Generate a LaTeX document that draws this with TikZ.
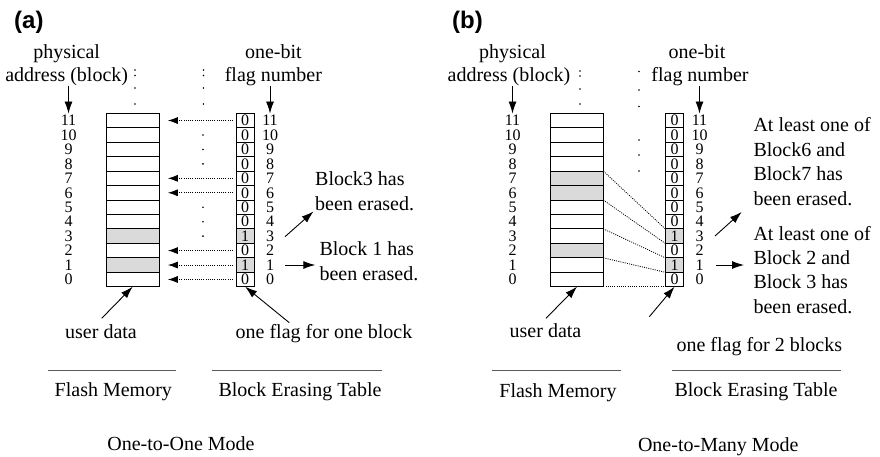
\documentclass[tikz,border=0pt]{standalone}
\usepackage{fontspec}
\setmainfont{Liberation Serif}
\newfontfamily\panelfont{Liberation Sans}
\usetikzlibrary{arrows.meta}
\definecolor{shade}{RGB}{218,218,218}
\definecolor{rulegray}{RGB}{90,90,90}
\newcommand{\txtsize}{\fontsize{20}{23}\selectfont}
\newcommand{\annsize}{\fontsize{20}{24.4}\selectfont}
\newcommand{\digsize}{\fontsize{16}{16}\selectfont}
\begin{document}
\begin{tikzpicture}[x=1pt,y=-1pt,
  cell/.style={draw=black, line width=0.9pt, minimum width=#1, minimum height=14.45pt, inner sep=0pt, outer sep=0pt, font=\digsize},
  num/.style={inner sep=0pt, font=\digsize},
  txt/.style={inner sep=0pt, font=\txtsize},
  ann/.style={inner sep=0pt, font=\annsize, align=left, anchor=north west},
  panel/.style={inner sep=0pt, font=\panelfont\bfseries\fontsize{24}{24}\selectfont, anchor=base west},
  arr/.style={line width=0.9pt, -{Latex[length=12pt,width=8pt]}},
  dotarr/.style={line width=0.9pt, dash pattern=on 1pt off 1.2pt, -{Latex[length=10pt,width=7pt]}, shorten <=3pt, shorten >=8.5pt},
  dotln/.style={line width=0.8pt, dash pattern=on 1pt off 1.2pt},
  rule/.style={draw=rulegray, line width=1.2pt}
]
\useasboundingbox (0,0) rectangle (880,456);

% ---------------- panel (a) ----------------
\node[panel] (lbla) at (14,28) {(a)};
\foreach \i/\mf/\fv in {11/white/0,10/white/0,9/white/0,8/white/0,7/white/0,6/white/0,5/white/0,4/white/0,3/shade/1,2/white/0,1/shade/1,0/white/0}{
  \pgfmathsetmacro{\yy}{113.3+(11.5-\i)*14.45}
  \node[cell=53.3pt, fill=\mf] (ma\i) at (132.65,\yy) {};
  \node[cell=18.3pt, fill=\mf] (fa\i) at (245.15,\yy) {\fv};
  \node[num] (la\i) at (68.5,\yy) {\i};
  \node[num] (ra\i) at (270,\yy) {\i};
}
\foreach \i in {11,7,6,2,1,0} \draw[dotarr] (fa\i.west) -- (ma\i.east);
\foreach \y in {70,75.5,88,104} {\fill (135,\y) circle (0.9pt); \fill (203.5,\y) circle (0.9pt);}
\foreach \i in {10,9,8,5,4,3}{
  \pgfmathsetmacro{\yy}{113.3+(11.5-\i)*14.45}
  \fill (203,\yy) circle (0.9pt);
}
\node[txt, align=center, anchor=north] (pa) at (66.7,44.2) {physical\\address (block)};
\node[txt, align=center, anchor=north] (oba) at (273.4,44.2) {one-bit\\flag number};
\draw[arr, shorten >=1.5pt] (pa.south -| la11) -- (la11.north);
\draw[arr, shorten >=1.5pt] (oba.south -| ra11) -- (ra11.north);

\node[ann, font=\fontsize{20}{25}\selectfont] (e3a) at (315,171.9) {Block3 has\\been erased.};
\node[ann, font=\fontsize{20}{25}\selectfont] (e1a) at (319.3,241.6) {Block 1 has\\been erased.};
\coordinate (s3a) at (285,236.7);
\coordinate (s1a) at (285,265);
\draw[arr] (s3a) -- ([xshift=-1.5pt]e3a.south west);
\draw[arr, shorten >=4pt] (s1a) -- (s1a -| e1a.west);

\node[txt, anchor=base] (uda) at (101,338.6) {user data};
\node[txt, anchor=base] (ofa) at (324,338.6) {one flag for one block};
\coordinate (sua) at (101.7,318.3);
\coordinate (sfa) at (289.3,322.7);
\draw[arr] (sua) -- (ma0.south);
\draw[arr] (sfa) -- (fa0.south);

\draw[rule] (48.3,370.7) -- (176,370.7);
\draw[rule] (212.3,370.7) -- (381.7,370.7);
\node[txt, anchor=base] (fma) at (113.3,396.3) {Flash Memory};
\node[txt, anchor=base] (beta) at (300,396.3) {Block Erasing Table};
\node[txt, anchor=base] (modea) at (181,450.6) {One-to-One Mode};

% ---------------- panel (b) ----------------
\node[panel] (lblb) at (452,28) {(b)};
\foreach \i/\mf/\ff/\fv in {11/white/white/0,10/white/white/0,9/white/white/0,8/white/white/0,7/shade/white/0,6/shade/white/0,5/white/white/0,4/white/white/0,3/white/shade/1,2/shade/white/0,1/white/shade/1,0/white/white/0}{
  \pgfmathsetmacro{\yy}{113.3+(11.5-\i)*14.45}
  \node[cell=52.6pt, fill=\mf] (mb\i) at (577,\yy) {};
  \node[cell=18.4pt, fill=\ff] (fb\i) at (674.5,\yy) {\fv};
  \node[num] (lb\i) at (512.5,\yy) {\i};
  \node[num] (rb\i) at (699.5,\yy) {\i};
}
\draw[dotln] (mb7.north east) -- (fb3.north west);
\draw[dotln] (mb6.south east) -- (fb3.south west);
\draw[dotln] (mb3.north east) -- (fb1.north west);
\draw[dotln] (mb2.south east) -- (fb1.south west);
\draw[dotln] (mb0.south east) -- (fb0.south west);
\foreach \y in {71,76,89,104} \fill (580,\y) circle (0.9pt);
\foreach \y in {71.5,90,106.5,140,155,171} \fill (639,\y) circle (0.9pt);

\node[txt, align=center, anchor=north] (pb) at (509,44.2) {\hspace*{7pt}physical\\address (block)};
\node[txt, align=center, anchor=north] (obb) at (700,44.2) {one-bit\hspace*{6pt}\\flag number};
\draw[arr, shorten >=1.5pt] (pb.south -| lb11) -- (lb11.north);
\draw[arr, shorten >=1.5pt] (obb.south -| rb11) -- (rb11.north);

\node[ann] (e6b) at (753.3,117.6) {At least one of\\Block6 and\\Block7 has\\been erased.};
\node[ann] (e2b) at (753.3,225.9) {At least one of\\Block 2 and\\Block 3 has\\been erased.};
\coordinate (s6b) at (715,236);
\coordinate (s2b) at (716,265);
\draw[arr] (s6b) -- ([xshift=-11.6pt,yshift=-6.4pt]e6b.south west);
\draw[arr, shorten >=9.3pt] (s2b) -- (s2b -| e2b.west);

\node[txt, anchor=base] (udb) at (545.5,337.9) {user data};
\node[txt, anchor=base] (ofb) at (759.3,351.3) {one flag for 2 blocks};
\coordinate (sub) at (546,318.3);
\coordinate (sfb) at (649.3,316.7);
\draw[arr] (sub) -- (mb0.south);
\draw[arr] (sfb) -- (fb0.south);

\draw[rule] (492.3,370.7) -- (621,370.7);
\draw[rule] (671.7,370.7) -- (840.7,370.7);
\node[txt, anchor=base] (fmb) at (558,397) {Flash Memory};
\node[txt, anchor=base] (betb) at (756,396.6) {Block Erasing Table};
\node[txt, anchor=base] (modeb) at (718.3,451) {One-to-Many Mode};
\end{tikzpicture}
\end{document}
